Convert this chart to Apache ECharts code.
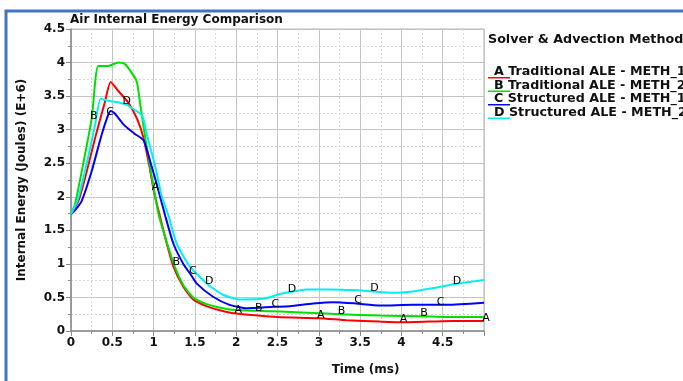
<!DOCTYPE html>
<html>
<head>
<meta charset="utf-8">
<script src="https://cdn.jsdelivr.net/npm/echarts@6/dist/echarts.min.js"></script>
<style>
  html, body { margin: 0; padding: 0; background: #fff; }
  #chart { width: 683px; height: 381px; }
</style>
</head>
<body>
<div id="chart"></div>
<script>
// data: [time (ms), energy (E+6 J)]
var seriesNames = [
  'Traditional ALE - METH_1',
  'Traditional ALE - METH_2',
  'Structured ALE - METH_1',
  'Structured ALE - METH_2'
]
var seriesLetters = ['A', 'B', 'C', 'D']
var seriesColors = ['#ff0000', '#00e000', '#0000ff', '#00f0f0']

var curveA = [[0, 1.74], [0.09, 1.94], [0.17, 2.28], [0.29, 2.87], [0.41, 3.41], [0.48, 3.71], [0.57, 3.58],
  [0.69, 3.41], [0.8, 3.16], [0.88, 2.87], [0.96, 2.38], [1.0, 2.1], [1.04, 1.89], [1.16, 1.30], [1.24, 0.96],
  [1.36, 0.66], [1.48, 0.47], [1.64, 0.37], [1.8, 0.31], [2.0, 0.26], [2.5, 0.21], [3.0, 0.19], [3.34, 0.16],
  [3.74, 0.14], [4.0, 0.13], [4.34, 0.14], [4.63, 0.15], [5.0, 0.15]]
var curveB = [[0, 1.74], [0.05, 1.9], [0.13, 2.38], [0.25, 3.16], [0.33, 3.95], [0.45, 3.95], [0.57, 4.0],
  [0.65, 3.98], [0.75, 3.82], [0.8, 3.7], [0.84, 3.36], [0.9, 2.87], [0.98, 2.28], [1.06, 1.74], [1.16, 1.32],
  [1.25, 0.98], [1.36, 0.68], [1.48, 0.5], [1.64, 0.4], [1.92, 0.32], [2.25, 0.3], [2.53, 0.29], [2.93, 0.27],
  [3.25, 0.25], [3.74, 0.23], [4.25, 0.22], [4.55, 0.21], [5.0, 0.21]]
var curveC = [[0, 1.74], [0.05, 1.8], [0.13, 1.94], [0.25, 2.38], [0.37, 2.92], [0.45, 3.22], [0.48, 3.28],
  [0.53, 3.24], [0.65, 3.06], [0.77, 2.94], [0.88, 2.84], [0.96, 2.52], [1.04, 2.18], [1.14, 1.72], [1.24, 1.30],
  [1.36, 1.0], [1.45, 0.84], [1.52, 0.71], [1.72, 0.51], [1.92, 0.39], [2.13, 0.34], [2.45, 0.36], [2.65, 0.37],
  [2.93, 0.41], [3.18, 0.43], [3.45, 0.41], [3.74, 0.38], [4.14, 0.39], [4.45, 0.39], [4.55, 0.39], [5.0, 0.42]]
var curveD = [[0, 1.74], [0.08, 1.95], [0.17, 2.38], [0.29, 3.06], [0.36, 3.46], [0.45, 3.43], [0.57, 3.41],
  [0.65, 3.38], [0.69, 3.36], [0.86, 3.21], [0.92, 2.92], [1.02, 2.45], [1.1, 2.0], [1.18, 1.72], [1.28, 1.30],
  [1.44, 0.96], [1.65, 0.70], [1.84, 0.54], [2.05, 0.47], [2.33, 0.48], [2.53, 0.55], [2.65, 0.58], [2.85, 0.62],
  [3.14, 0.62], [3.42, 0.61], [3.65, 0.59], [3.9, 0.57], [4.14, 0.59], [4.39, 0.64], [4.65, 0.70], [5.0, 0.76]]
var curves = [curveA, curveB, curveC, curveD]

// times where the letter tags sit on each curve
var letterTimes = [
  [1.0, 2.0, 3.0, 4.0, 5.0],
  [0.25, 1.25, 2.25, 3.25, 4.25],
  [0.45, 1.45, 2.45, 3.45, 4.45],
  [0.65, 1.65, 2.65, 3.65, 4.65]
]

var xTicks = [0, 0.5, 1, 1.5, 2, 2.5, 3, 3.5, 4, 4.5]
var yTicks = [0, 0.5, 1, 1.5, 2, 2.5, 3, 3.5, 4, 4.5]

var font = 'DejaVu Sans'
var chart = echarts.init(document.getElementById('chart'))

var series = curves.map(function (curve, i) {
  return {
    name: seriesNames[i],
    type: 'line',
    smooth: 0.2,
    symbol: 'circle',
    symbolSize: 0,
    showSymbol: true,
    showAllSymbol: true,
    lineStyle: { width: 2, color: seriesColors[i] },
    itemStyle: { color: seriesColors[i] },
    emphasis: { disabled: true },
    data: curve.map(function (p) {
      var tagged = letterTimes[i].indexOf(p[0]) >= 0
      return {
        value: p,
        label: {
          show: tagged,
          formatter: seriesLetters[i],
          position: 'inside',
          offset: [2, -3],
          color: '#000',
          fontFamily: font,
          fontSize: 11
        }
      }
    })
  }
})

chart.setOption({
  animation: false,
  color: seriesColors,
  textStyle: { fontFamily: font },
  title: [
    {
      text: 'Air Internal Energy Comparison',
      left: 70,
      top: 14,
      padding: 0,
      textStyle: { fontSize: 12, fontWeight: 'bold', color: '#111', fontFamily: font }
    },
    {
      text: 'Solver & Advection Method',
      left: 488,
      top: 33,
      padding: 0,
      textStyle: { fontSize: 12.7, fontWeight: 'bold', color: '#111', fontFamily: font }
    }
  ],
  legend: {
    orient: 'vertical',
    left: 488,
    top: 65,
    padding: 0,
    itemGap: 0,
    itemWidth: 22,
    itemHeight: 14,
    icon: 'path://M0,0L0.01,0M0,12L22,12L22,13.5L0,13.5Z',
    formatter: function (name) {
      return seriesLetters[seriesNames.indexOf(name)] + ' ' + name
    },
    textStyle: { fontSize: 12.7, fontWeight: 'bold', color: '#111', fontFamily: font, padding: [0, 0, 0, -21] },
    data: seriesNames
  },
  grid: { left: 71, right: 199, top: 29, bottom: 46, show: true, borderColor: '#b0b0b0', borderWidth: 1 },
  xAxis: {
    type: 'value',
    min: 0,
    max: 5,
    interval: 0.5,
    name: 'Time (ms)',
    nameLocation: 'middle',
    nameGap: 33,
    nameTextStyle: { fontSize: 12, fontWeight: 'bold', color: '#111', fontFamily: font, padding: [0, 0, 0, 176] },
    axisLine: { onZero: false, lineStyle: { color: '#8a8a8a', width: 1.5 } },
    axisTick: { length: 5, lineStyle: { color: '#8a8a8a' } },
    minorTick: { show: true, splitNumber: 2, length: 3, lineStyle: { color: '#8a8a8a' } },
    axisLabel: {
      fontSize: 12, fontWeight: 'bold', color: '#111', fontFamily: font, margin: 6,
      showMaxLabel: false,
      formatter: function (v) { return xTicks.indexOf(v) >= 0 ? String(v) : '' }
    },
    splitLine: { lineStyle: { color: '#c4c4c4', width: 1 } },
    minorSplitLine: { show: true, lineStyle: { color: '#d8d8d8', type: [2, 2], width: 1 } }
  },
  yAxis: {
    type: 'value',
    min: 0,
    max: 4.5,
    interval: 0.5,
    name: 'Internal Energy (Joules) (E+6)',
    nameLocation: 'middle',
    nameGap: 43,
    nameTextStyle: { fontSize: 12, fontWeight: 'bold', color: '#111', fontFamily: font },
    axisLine: { show: true, onZero: false, lineStyle: { color: '#8a8a8a', width: 1.5 } },
    axisTick: { show: true, length: 5, lineStyle: { color: '#8a8a8a' } },
    minorTick: { show: true, splitNumber: 2, length: 3, lineStyle: { color: '#8a8a8a' } },
    axisLabel: {
      fontSize: 12, fontWeight: 'bold', color: '#111', fontFamily: font, margin: 6,
      formatter: function (v) { return yTicks.indexOf(v) >= 0 ? String(v) : '' }
    },
    splitLine: { lineStyle: { color: '#c4c4c4', width: 1 } },
    minorSplitLine: { show: true, lineStyle: { color: '#d8d8d8', type: [2, 2], width: 1 } }
  },
  graphic: [
    {
      type: 'rect',
      silent: true,
      z: 100,
      shape: { x: 6, y: 11, width: 720, height: 420 },
      style: { fill: 'none', stroke: '#4472c4', lineWidth: 3 }
    }
  ],
  series: series
})
</script>
</body>
</html>
